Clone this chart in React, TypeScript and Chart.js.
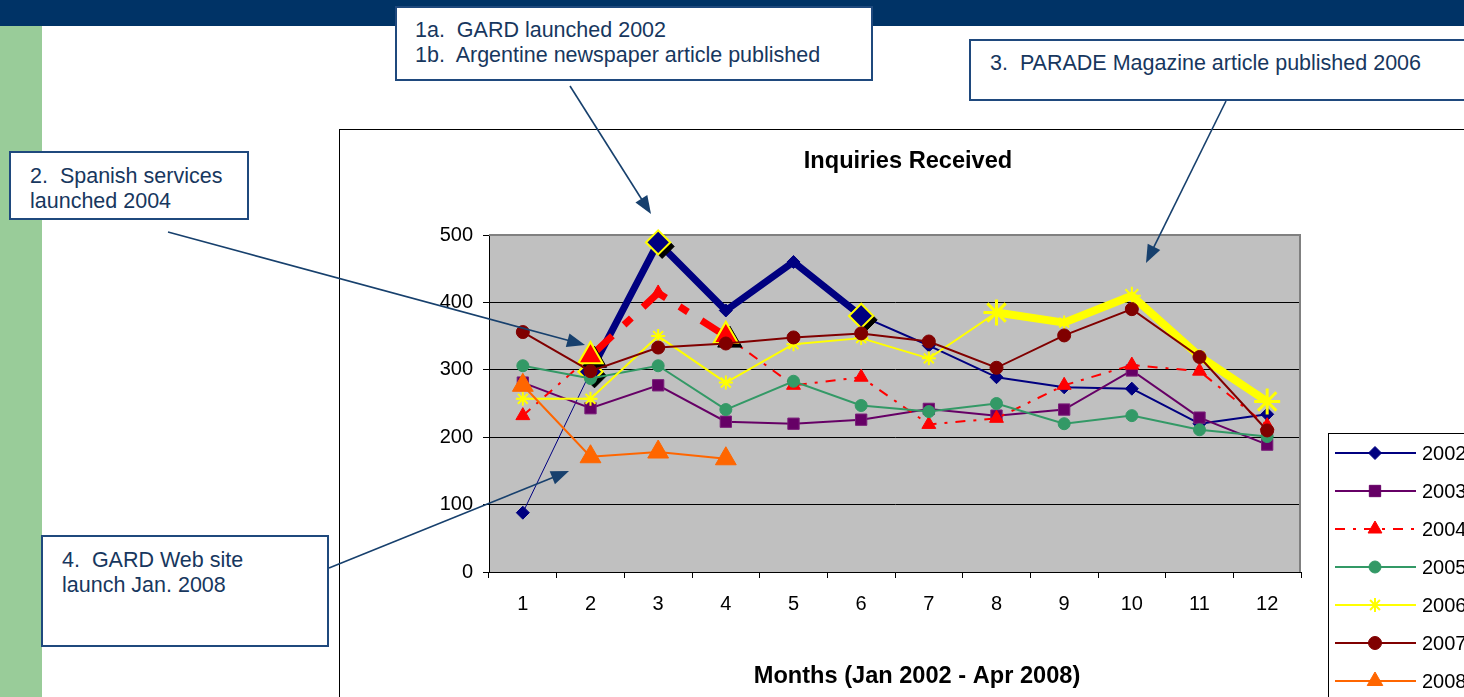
import React, { useEffect, useRef } from 'react';
import { Chart, registerables } from 'chart.js';
import { drawPoint } from 'chart.js/helpers';

Chart.register(...registerables);

const FONT = '"Liberation Sans", Arial, Helvetica, sans-serif';

// ---------- data ----------
const MONTHS = ['1', '2', '3', '4', '5', '6', '7', '8', '9', '10', '11', '12'];
const SERIES_NAMES = ['2002', '2003', '2004', '2005', '2006', '2007', '2008'];
const V2002 = [88, 297, 489, 388, 460, 380, 336, 289, 274, 272, 220, 234];
const V2003 = [281, 243, 277, 223, 220, 226, 242, 232, 241, 299, 229, 189];
const V2004 = [232, 320, 414, 350, 277, 289, 219, 228, 277, 307, 298, 217];
const V2005 = [306, 287, 306, 241, 283, 247, 238, 250, 220, 232, 211, 201];
const V2006 = [257, 257, 350, 281, 338, 347, 317, 385, 370, 410, 320, 253];
const V2007 = [356, 298, 333, 339, 348, 354, 342, 303, 351, 390, 319, 210];
const V2008 = [277, 171, 178, 168, null, null, null, null, null, null, null, null];
const Y_MIN = 0;
const Y_MAX = 500;
const Y_STEP = 100;
const CHART_TITLE = 'Inquiries Received';
const X_TITLE = 'Months (Jan 2002 - Apr 2008)';
const NOTE_1 = ['1a.  GARD launched 2002', '1b.  Argentine newspaper article published'];
const NOTE_2 = ['2.  Spanish services', 'launched 2004'];
const NOTE_3 = ['3.  PARADE Magazine article published 2006'];
const NOTE_4 = ['4.  GARD Web site', 'launch Jan. 2008'];

// ---------- styles ----------
const NAVY = '#000080';
const PURPLE = '#660066';
const RED = '#FF0000';
const GREEN = '#339966';
const YELLOW = '#FFFF00';
const MAROON = '#800000';
const ORANGE = '#FF6600';
const NOTE_BORDER = '#1F497D';
const NOTE_TEXT = '#17375E';
const ARROW = '#17406D';

const HL2002 = [1, 2, 5];
const HL2004 = [1, 3];
const BIG2006 = [7, 11];
const MID2006 = [9];

const LEGEND_STYLE = [
  { color: NAVY, point: 'rectRot', r: 6.5, dash: [] as number[] },
  { color: PURPLE, point: 'rect', r: 8, dash: [] },
  { color: RED, point: 'triangle', r: 8, dash: [10, 8, 3, 8] },
  { color: GREEN, point: 'circle', r: 6, dash: [] },
  { color: YELLOW, point: 'star', r: 7, dash: [] },
  { color: MAROON, point: 'circle', r: 6.5, dash: [] },
  { color: ORANGE, point: 'triangle', r: 9, dash: [] },
];

const datasets: any[] = [
  {
    label: SERIES_NAMES[0], data: V2002, order: 6,
    borderColor: NAVY, borderWidth: 2, borderJoinStyle: 'round',
    segment: { borderWidth: (c: any) => (c.p0DataIndex === 0 ? 1 : c.p0DataIndex <= 4 ? 7 : 2) },
    pointStyle: 'rectRot',
    pointRadius: (c: any) => (HL2002.includes(c.dataIndex) ? 12 : 6.5),
    pointBackgroundColor: NAVY,
    pointBorderColor: (c: any) => (HL2002.includes(c.dataIndex) ? YELLOW : NAVY),
    pointBorderWidth: (c: any) => (HL2002.includes(c.dataIndex) ? 2 : 1),
  },
  {
    label: SERIES_NAMES[1], data: V2003, order: 5,
    borderColor: PURPLE, borderWidth: 2,
    pointStyle: 'rect', pointRadius: 8,
    pointBackgroundColor: PURPLE, pointBorderColor: '#7A1F7A', pointBorderWidth: 1,
  },
  {
    label: SERIES_NAMES[2], data: V2004, order: 4,
    borderColor: RED, borderWidth: 2, borderDash: [10, 8, 3, 8],
    segment: {
      borderWidth: (c: any) => (c.p0DataIndex === 1 || c.p0DataIndex === 2 ? 7 : 2),
      borderDash: (c: any) => (c.p0DataIndex === 1 || c.p0DataIndex === 2 ? [30, 16, 10, 16] : [10, 8, 3, 8]),
    },
    pointStyle: 'triangle',
    pointRadius: (c: any) => (HL2004.includes(c.dataIndex) ? 14 : 8),
    pointBackgroundColor: RED,
    pointBorderColor: (c: any) => (HL2004.includes(c.dataIndex) ? YELLOW : RED),
    pointBorderWidth: (c: any) => (HL2004.includes(c.dataIndex) ? 2 : 1),
  },
  {
    label: SERIES_NAMES[3], data: V2005, order: 3,
    borderColor: GREEN, borderWidth: 2,
    pointStyle: 'circle', pointRadius: 6,
    pointBackgroundColor: GREEN, pointBorderColor: GREEN, pointBorderWidth: 1,
  },
  {
    label: SERIES_NAMES[4], data: V2006, order: 2,
    borderColor: YELLOW, borderWidth: 2, borderJoinStyle: 'round',
    segment: { borderWidth: (c: any) => (c.p0DataIndex >= 7 ? 8 : 2) },
    pointStyle: 'star',
    pointRadius: (c: any) => (BIG2006.includes(c.dataIndex) ? 13 : MID2006.includes(c.dataIndex) ? 9 : 7),
    pointBackgroundColor: YELLOW, pointBorderColor: YELLOW,
    pointBorderWidth: (c: any) => (BIG2006.includes(c.dataIndex) ? 3 : 2),
  },
  {
    label: SERIES_NAMES[5], data: V2007, order: 1,
    borderColor: MAROON, borderWidth: 2,
    pointStyle: 'circle', pointRadius: 6.5,
    pointBackgroundColor: MAROON, pointBorderColor: MAROON, pointBorderWidth: 1,
  },
  {
    label: SERIES_NAMES[6], data: V2008, order: 0,
    borderColor: ORANGE, borderWidth: 2,
    pointStyle: 'triangle', pointRadius: 12,
    pointBackgroundColor: ORANGE, pointBorderColor: ORANGE, pointBorderWidth: 1,
  },
];

const SHADOWS: Record<number, { idx: number[]; style: string; r: number }> = {
  0: { idx: HL2002, style: 'rectRot', r: 12 },
  2: { idx: HL2004, style: 'triangle', r: 14 },
};

const plotPlugin = {
  id: 'plotDecor',
  beforeDraw(chart: any) {
    const { ctx, chartArea: a } = chart;
    ctx.save();
    ctx.fillStyle = '#C0C0C0';
    ctx.fillRect(a.left, a.top, a.right - a.left, a.bottom - a.top);
    ctx.restore();
  },
  beforeDatasetsDraw(chart: any) {
    const { ctx, chartArea: a } = chart;
    ctx.save();
    ctx.strokeStyle = '#808080';
    ctx.lineWidth = 2;
    ctx.beginPath();
    ctx.moveTo(a.left, a.top);
    ctx.lineTo(a.right - 1, a.top);
    ctx.lineTo(a.right - 1, a.bottom);
    ctx.stroke();
    ctx.restore();
  },
  afterDatasetDraw(chart: any, args: any) {
    const spec = SHADOWS[args.index];
    if (!spec) return;
    const meta = chart.getDatasetMeta(args.index);
    const ctx = chart.ctx;
    spec.idx.forEach((i) => {
      const el = meta.data[i];
      if (!el) return;
      ctx.save();
      ctx.fillStyle = '#000';
      ctx.strokeStyle = '#000';
      ctx.lineWidth = 1;
      drawPoint(ctx, { pointStyle: spec.style, radius: spec.r, rotation: 0, borderWidth: 1 } as any, el.x + 4, el.y + 4);
      ctx.restore();
      el.draw(ctx, chart.chartArea);
    });
  },
  afterDraw(chart: any) {
    const ctx = chart.ctx;
    ctx.save();
    ctx.fillStyle = '#000';
    ctx.textAlign = 'center';
    ctx.textBaseline = 'middle';
    ctx.font = `bold 23.6px ${FONT}`;
    ctx.fillText(CHART_TITLE, 568, 31);
    ctx.fillText(X_TITLE, 577, 546);
    // legend
    ctx.strokeStyle = '#000';
    ctx.lineWidth = 1;
    ctx.strokeRect(988.5, 303.5, 400, 400);
    ctx.font = `20px ${FONT}`;
    ctx.textAlign = 'left';
    SERIES_NAMES.forEach((name, i) => {
      const st = LEGEND_STYLE[i];
      const y = 323 + i * 38;
      ctx.save();
      ctx.strokeStyle = st.color;
      ctx.lineWidth = 2;
      ctx.setLineDash(st.dash);
      ctx.beginPath();
      ctx.moveTo(995, y);
      ctx.lineTo(1076, y);
      ctx.stroke();
      ctx.setLineDash([]);
      ctx.fillStyle = st.color;
      ctx.lineWidth = st.point === 'star' ? 2 : 1;
      drawPoint(ctx, { pointStyle: st.point, radius: st.r, rotation: 0, borderWidth: ctx.lineWidth } as any, 1035, y);
      ctx.restore();
      ctx.fillText(name, 1082, y + 1);
    });
    ctx.restore();
  },
};

type Note = { lines: string[]; left: number; top: number; width: number; height: number; padL: number; padT: number };
const NOTES: Note[] = [
  { lines: NOTE_1, left: 395, top: 6, width: 478, height: 75, padL: 18, padT: 10 },
  { lines: NOTE_2, left: 9, top: 151, width: 240, height: 69, padL: 19, padT: 11 },
  { lines: NOTE_3, left: 969, top: 39, width: 600, height: 62, padL: 19, padT: 10 },
  { lines: NOTE_4, left: 41, top: 535, width: 288, height: 112, padL: 19, padT: 11 },
];

const ARROWS = [
  [570, 86, 651, 214],
  [168, 232, 585, 345],
  [1226, 101, 1146, 263],
  [329, 568, 569, 471],
];

function Arrow({ a }: { a: number[] }) {
  const [x1, y1, x2, y2] = a;
  const dx = x2 - x1;
  const dy = y2 - y1;
  const len = Math.hypot(dx, dy);
  const ux = dx / len;
  const uy = dy / len;
  const L = 18;
  const W = 7;
  const bx = x2 - ux * L;
  const by = y2 - uy * L;
  const pts = `${x2},${y2} ${bx - uy * W},${by + ux * W} ${bx + uy * W},${by - ux * W}`;
  return (
    <g>
      <line x1={x1} y1={y1} x2={bx + ux * 2} y2={by + uy * 2} stroke={ARROW} strokeWidth={1.6} />
      <polygon points={pts} fill={ARROW} />
    </g>
  );
}

export default function App() {
  const ref = useRef<HTMLCanvasElement>(null);
  useEffect(() => {
    document.body.style.margin = '0';
    const chart = new Chart(ref.current as HTMLCanvasElement, {
      type: 'line',
      data: { labels: MONTHS, datasets },
      options: {
        responsive: false,
        animation: false,
        devicePixelRatio: 1,
        layout: { padding: { left: 0, top: 105, right: 239, bottom: 0 } },
        plugins: { legend: { display: false }, tooltip: { enabled: false }, title: { display: false } },
        scales: {
          x: {
            type: 'category',
            offset: true,
            grid: { display: true, drawOnChartArea: false, offset: true, tickLength: 6, color: '#000', tickColor: '#000' },
            border: { display: true, color: '#000', width: 1 },
            ticks: { color: '#000', font: { family: FONT, size: 20 }, padding: 14, maxRotation: 0, autoSkip: false },
            afterFit: (s: any) => { s.height = 158; },
          },
          y: {
            min: Y_MIN,
            max: Y_MAX,
            grid: {
              color: (c: any) => (c.tick && c.tick.value === Y_MAX ? 'rgba(0,0,0,0)' : '#000'),
              tickColor: '#000',
              tickLength: 6,
              lineWidth: 1,
            },
            border: { display: true, color: '#000', width: 1 },
            ticks: { stepSize: Y_STEP, color: '#000', font: { family: FONT, size: 20 }, padding: 10 },
            afterFit: (s: any) => { s.width = 149; },
          },
        },
      } as any,
      plugins: [plotPlugin],
    });
    return () => chart.destroy();
  }, []);

  return (
    <div style={{ position: 'absolute', left: 0, top: 0, width: 1464, height: 697, overflow: 'hidden', background: '#fff', fontFamily: FONT }}>
      <div style={{ position: 'absolute', left: 0, top: 0, width: 1464, height: 26, background: '#003366' }} />
      <div style={{ position: 'absolute', left: 0, top: 26, width: 42, height: 671, background: '#99CC99' }} />
      <div style={{ position: 'absolute', left: 339, top: 129, width: 1200, height: 600, border: '1px solid #000', background: '#fff' }}>
        <canvas ref={ref} width={1200} height={600} style={{ display: 'block', width: 1200, height: 600 }} />
      </div>
      {NOTES.map((n, i) => (
        <div
          key={i}
          style={{
            position: 'absolute', left: n.left, top: n.top, width: n.width, height: n.height,
            boxSizing: 'border-box', border: `2px solid ${NOTE_BORDER}`, background: '#fff',
            color: NOTE_TEXT, fontSize: 21.5, lineHeight: '25px', whiteSpace: 'pre',
            paddingLeft: n.padL, paddingTop: n.padT,
          }}
        >
          {n.lines.map((t, j) => (<div key={j}>{t}</div>))}
        </div>
      ))}
      <svg width={1464} height={697} style={{ position: 'absolute', left: 0, top: 0, pointerEvents: 'none' }}>
        {ARROWS.map((a, i) => (<Arrow key={i} a={a} />))}
      </svg>
    </div>
  );
}
